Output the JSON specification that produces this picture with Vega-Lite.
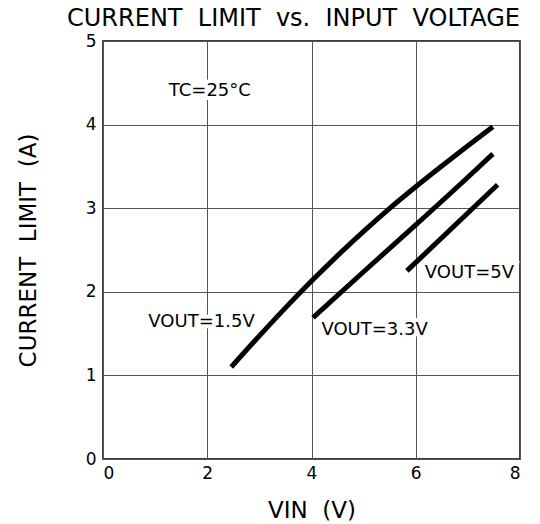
{
  "$schema": "https://vega.github.io/schema/vega-lite/v6.json",
  "width": 417,
  "height": 418,
  "autosize": "none",
  "padding": {"left": 103, "top": 41, "right": 20, "bottom": 65},
  "background": "white",
  "config": {
    "font": "DejaVu Sans",
    "view": {"stroke": "black", "strokeWidth": 1.5},
    "axis": {
      "grid": true,
      "gridColor": "#555555",
      "gridWidth": 1,
      "gridOpacity": 1,
      "domain": false,
      "ticks": false,
      "labelFont": "DejaVu Sans",
      "labelFontSize": 17,
      "labelColor": "black",
      "titleFont": "DejaVu Sans",
      "titleFontSize": 23,
      "titleFontWeight": "normal",
      "titleColor": "black"
    }
  },
  "title": {
    "text": "CURRENT\u00a0 LIMIT\u00a0 vs.\u00a0 INPUT\u00a0 VOLTAGE",
    "font": "DejaVu Sans",
    "fontSize": 24,
    "fontWeight": "normal",
    "color": "black",
    "anchor": "end",
    "offset": 1
  },
  "datasets": {
    "curves": [
      {"series": "1.5V", "vin": 2.46, "ilim": 1.10},
      {"series": "1.5V", "vin": 3.0, "ilim": 1.473},
      {"series": "1.5V", "vin": 3.5, "ilim": 1.808},
      {"series": "1.5V", "vin": 4.0, "ilim": 2.128},
      {"series": "1.5V", "vin": 4.5, "ilim": 2.433},
      {"series": "1.5V", "vin": 5.0, "ilim": 2.723},
      {"series": "1.5V", "vin": 5.5, "ilim": 2.998},
      {"series": "1.5V", "vin": 6.0, "ilim": 3.256},
      {"series": "1.5V", "vin": 6.5, "ilim": 3.504},
      {"series": "1.5V", "vin": 7.0, "ilim": 3.746},
      {"series": "1.5V", "vin": 7.48, "ilim": 3.975},
      {"series": "3.3V", "vin": 4.03, "ilim": 1.69},
      {"series": "3.3V", "vin": 5.0, "ilim": 2.24},
      {"series": "3.3V", "vin": 6.0, "ilim": 2.80},
      {"series": "3.3V", "vin": 7.0, "ilim": 3.37},
      {"series": "3.3V", "vin": 7.48, "ilim": 3.65},
      {"series": "5V", "vin": 5.83, "ilim": 2.25},
      {"series": "5V", "vin": 7.57, "ilim": 3.28}
    ],
    "labels": [
      {"text": "TC=25°C", "vin": 2.05, "ilim": 4.40},
      {"text": "VOUT=1.5V", "vin": 1.89, "ilim": 1.64},
      {"text": "VOUT=3.3V", "vin": 5.21, "ilim": 1.54},
      {"text": "VOUT=5V", "vin": 7.03, "ilim": 2.22}
    ]
  },
  "layer": [
    {
      "data": {"name": "labels"},
      "mark": {"type": "text", "font": "DejaVu Sans", "fontSize": 18, "color": "white", "stroke": "white", "strokeWidth": 8, "align": "center", "baseline": "middle"},
      "encoding": {
        "x": {
          "field": "vin", "type": "quantitative",
          "scale": {"domain": [0, 8], "nice": false, "zero": false},
          "axis": {"values": [0, 2, 4, 6, 8], "format": "d", "title": "VIN\u00a0 (V)", "labelPadding": 6, "titlePadding": 18}
        },
        "y": {
          "field": "ilim", "type": "quantitative",
          "scale": {"domain": [0, 5], "nice": false},
          "axis": {"values": [0, 1, 2, 3, 4, 5], "format": "d", "title": "CURRENT\u00a0 LIMIT\u00a0 (A)", "labelPadding": 7, "titlePadding": 45}
        },
        "text": {"field": "text"}
      }
    },
    {
      "data": {"name": "curves"},
      "mark": {"type": "line", "color": "black", "strokeWidth": 5, "interpolate": "monotone", "strokeCap": "butt"},
      "encoding": {
        "x": {"field": "vin", "type": "quantitative"},
        "y": {"field": "ilim", "type": "quantitative"},
        "detail": {"field": "series"}
      }
    },
    {
      "data": {"name": "labels"},
      "mark": {"type": "text", "font": "DejaVu Sans", "fontSize": 18, "color": "black", "align": "center", "baseline": "middle"},
      "encoding": {
        "x": {"field": "vin", "type": "quantitative"},
        "y": {"field": "ilim", "type": "quantitative"},
        "text": {"field": "text"}
      }
    }
  ]
}
